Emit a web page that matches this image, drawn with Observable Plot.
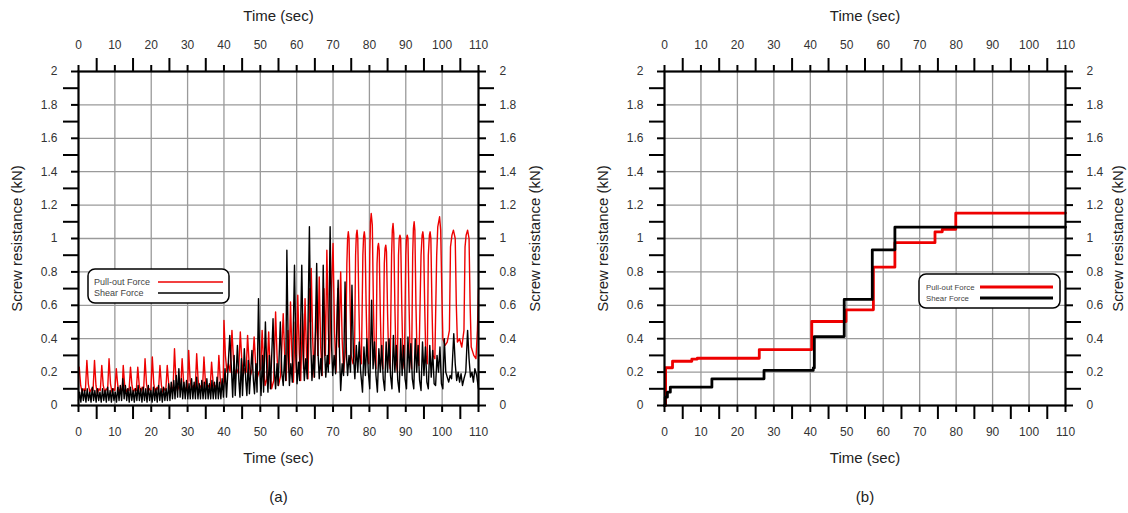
<!DOCTYPE html>
<html>
<head>
<meta charset="utf-8">
<script src="https://cdn.jsdelivr.net/npm/d3@7"></script>
<script src="https://cdn.jsdelivr.net/npm/@observablehq/plot@0.6"></script>
<style>
  html, body { margin: 0; padding: 0; background: #fff; }
  #wrap { position: relative; width: 1128px; height: 513px; overflow: hidden; font-family: "Liberation Sans", Arial, sans-serif; }
  .panel { position: absolute; top: 0; }
  .legend { position: absolute; }
</style>
</head>
<body>
<div id="wrap"></div>
<script>
// ---------- tick values / labels ----------
const xMajorTicks = [0, 10, 20, 30, 40, 50, 60, 70, 80, 90, 100, 110];
const xMinorTicks = [5, 15, 25, 35, 45, 55, 65, 75, 85, 95, 105];
const yMajorTicks = [0, 0.2, 0.4, 0.6, 0.8, 1, 1.2, 1.4, 1.6, 1.8, 2];
const yMinorTicks = [0.1, 0.3, 0.5, 0.7, 0.9, 1.1, 1.3, 1.5, 1.7, 1.9];
const xTitle = "Time (sec)";
const yTitle = "Screw resistance (kN)";
const panelLetters = ["(a)", "(b)"];
const seriesNames = ["Pull-out Force", "Shear Force"];
const seriesColors = ["#ee0000", "#000000"];

// ---------- panel (a): [time (s), force (kN)] ----------
const pullOutA = [
[0,0.2],[0.2,0.23],[0.6,0.12],[1.0,0.08],[1.5,0.1],[1.9,0.09],
[2.3,0.27],[2.7,0.13],[3.1,0.08],[3.6,0.1],[4.0,0.09],
[4.4,0.27],[4.8,0.12],[5.2,0.07],[5.6,0.1],[6.0,0.09],
[6.4,0.24],[6.8,0.12],[7.2,0.08],[7.6,0.1],[8.0,0.09],
[8.4,0.28],[8.8,0.13],[9.2,0.08],[9.6,0.1],[10.0,0.09],
[10.4,0.22],[10.8,0.12],[11.2,0.08],[11.6,0.1],[12.0,0.09],
[12.3,0.24],[12.7,0.12],[13.1,0.08],[13.5,0.1],[13.9,0.09],
[14.3,0.23],[14.7,0.12],[15.1,0.08],[15.5,0.1],[15.9,0.09],
[16.3,0.23],[16.7,0.12],[17.1,0.08],[17.5,0.11],[17.9,0.09],
[18.3,0.28],[18.7,0.13],[19.1,0.08],[19.5,0.1],[19.9,0.09],
[20.3,0.29],[20.7,0.13],[21.1,0.08],[21.6,0.11],[22.0,0.09],
[22.4,0.24],[22.8,0.12],[23.2,0.08],[23.6,0.1],[24.0,0.09],
[24.4,0.24],[24.8,0.13],[25.2,0.09],[25.6,0.11],[26.0,0.1],
[26.4,0.34],[26.8,0.15],[27.2,0.09],[27.7,0.12],[28.1,0.1],
[28.5,0.28],[28.9,0.14],[29.3,0.09],[29.7,0.11],[30.0,0.1],
[30.3,0.33],[30.7,0.15],[31.1,0.1],[31.6,0.12],[32.1,0.1],
[32.5,0.31],[32.9,0.15],[33.3,0.1],[33.7,0.12],[34.1,0.1],
[34.5,0.29],[34.9,0.14],[35.3,0.1],[35.8,0.12],[36.2,0.1],
[36.6,0.26],[37.0,0.14],[37.4,0.1],[37.8,0.12],[38.2,0.11],
[38.6,0.3],[39.0,0.15],[39.4,0.11],[39.8,0.14],
[40.0,0.51],[40.4,0.3],[40.8,0.2],[41.2,0.25],[41.7,0.2],
[42.2,0.45],[42.6,0.28],[43.0,0.18],[43.5,0.22],[44.0,0.19],
[44.5,0.44],[44.9,0.27],[45.3,0.18],[45.7,0.22],[46.1,0.2],
[46.5,0.42],[46.9,0.26],[47.3,0.18],[47.8,0.22],
[48.3,0.41],[48.7,0.25],[49.1,0.16],[49.6,0.2],[50.1,0.22],
[50.5,0.45],[50.9,0.25],[51.3,0.12],[51.8,0.16],
[52.3,0.44],[52.7,0.22],[53.1,0.1],[53.7,0.15],
[54.2,0.56],[54.6,0.3],[55.0,0.12],[55.6,0.18],
[56.3,0.55],[56.7,0.3],[57.1,0.15],[57.6,0.45],[57.9,0.2],
[58.3,0.62],[58.7,0.3],[59.1,0.14],[59.6,0.5],[59.9,0.2],
[60.3,0.66],[60.7,0.32],[61.1,0.15],[61.6,0.55],[61.9,0.22],
[62.3,0.64],[62.7,0.3],[63.1,0.16],[63.6,0.7],[63.8,0.5],
[64.0,0.82],[64.4,0.4],[64.8,0.17],[65.5,0.62],[65.8,0.3],
[66.2,0.77],[66.6,0.35],[67.0,0.18],[67.5,0.7],[67.9,0.3],
[68.3,0.93],[68.7,0.45],[69.0,0.25],[69.4,0.6],
[70.0,0.97],[70.4,0.45],[70.8,0.2],[71.3,0.7],[71.6,0.35],
[72.1,0.8],[72.5,0.4],[72.9,0.2],[73.5,0.35],
[73.8,0.85],[74.0,1.0],[74.2,1.04],[74.4,1.0],[74.7,0.6],[75.0,0.3],[75.5,0.25],[75.9,0.3],
[76.2,0.9],[76.4,1.02],[76.6,1.05],[76.8,1.0],[77.1,0.6],[77.4,0.3],[77.8,0.25],
[78.2,0.9],[78.4,1.01],[78.6,1.04],[78.8,1.0],[79.1,0.6],[79.4,0.3],[79.8,0.25],
[80.1,0.9],[80.3,1.1],[80.5,1.15],[80.8,1.08],[81.1,0.6],[81.4,0.3],[81.8,0.22],
[82.1,0.85],[82.3,0.95],[82.5,0.97],[82.7,0.93],[83.0,0.55],[83.3,0.28],[83.7,0.22],
[84.1,0.85],[84.3,0.94],[84.5,0.96],[84.7,0.92],[85.0,0.55],[85.3,0.28],[85.7,0.22],
[86.1,0.9],[86.3,1.05],[86.5,1.09],[86.7,1.03],[87.0,0.6],[87.3,0.28],[87.7,0.2],
[88.0,0.9],[88.2,1.0],[88.4,1.02],[88.6,1.0],[88.9,0.6],[89.2,0.28],[89.6,0.22],
[90.0,0.9],[90.2,1.0],[90.4,1.02],[90.6,1.0],[90.9,0.6],[91.2,0.3],[91.6,0.22],
[91.9,0.9],[92.1,1.06],[92.3,1.1],[92.5,1.05],[92.8,0.6],[93.1,0.3],[93.6,0.24],
[94.2,0.9],[94.5,1.02],[94.7,1.04],[94.9,1.0],[95.2,0.6],[95.5,0.3],[95.9,0.25],
[96.2,0.9],[96.5,1.02],[96.7,1.04],[96.9,1.0],[97.2,0.6],[97.5,0.3],[98.0,0.28],
[98.5,0.9],[98.8,1.07],[99.3,1.13],[99.6,1.05],[99.9,0.7],[100.2,0.4],[100.8,0.36],[101.4,0.38],
[102.0,0.45],[102.3,0.95],[102.7,1.02],[103.1,1.05],[103.6,1.0],[103.9,0.6],[104.2,0.38],[104.8,0.4],[105.4,0.35],
[106.0,0.45],[106.3,0.95],[106.6,1.02],[107.0,1.05],[107.4,1.0],[107.7,0.6],[108.0,0.35],[108.7,0.3],[109.3,0.28],[109.7,0.45],[110,0.7]
];

const shearA = [
[0,0.03],[0.3,0.08],[0.65,0.02],[1.0,0.1],[1.35,0.03],[1.7,0.09],[2.05,0.02],[2.4,0.1],[2.75,0.03],[3.1,0.08],
[3.45,0.02],[3.8,0.11],[4.15,0.03],[4.5,0.09],[4.85,0.02],[5.2,0.1],[5.55,0.03],[5.9,0.08],[6.25,0.02],[6.6,0.1],
[6.95,0.03],[7.3,0.09],[7.65,0.02],[8.0,0.11],[8.35,0.03],[8.7,0.09],[9.05,0.02],[9.4,0.1],[9.75,0.03],[10.1,0.08],
[10.45,0.02],[10.8,0.11],[11.15,0.03],[11.5,0.12],[11.85,0.03],[12.2,0.16],[12.55,0.04],[12.9,0.12],[13.25,0.03],[13.6,0.1],
[13.95,0.02],[14.3,0.11],[14.65,0.03],[15.0,0.09],[15.35,0.02],[15.7,0.1],[16.05,0.03],[16.4,0.12],[16.75,0.03],[17.1,0.1],
[17.45,0.02],[17.8,0.11],[18.15,0.03],[18.5,0.1],[18.85,0.02],[19.2,0.12],[19.55,0.03],[19.9,0.09],[20.25,0.02],[20.6,0.11],
[20.95,0.03],[21.3,0.1],[21.65,0.02],[22.0,0.12],[22.35,0.03],[22.7,0.1],[23.05,0.02],[23.4,0.11],[23.75,0.03],[24.1,0.1],
[24.45,0.03],[24.8,0.13],[25.15,0.03],[25.5,0.14],[25.85,0.04],[26.2,0.15],[26.55,0.04],[26.9,0.18],[27.25,0.05],[27.6,0.22],
[27.95,0.05],[28.3,0.16],[28.65,0.04],[29.0,0.14],[29.35,0.04],[29.7,0.15],[30.05,0.04],[30.4,0.13],[30.75,0.04],[31.1,0.16],
[31.45,0.04],[31.8,0.14],[32.15,0.04],[32.5,0.17],[32.85,0.04],[33.2,0.13],[33.55,0.04],[33.9,0.15],[34.25,0.04],[34.6,0.14],
[34.95,0.04],[35.3,0.16],[35.65,0.04],[36.0,0.13],[36.35,0.04],[36.7,0.15],[37.05,0.04],[37.4,0.14],[37.75,0.04],[38.1,0.17],
[38.45,0.04],[38.8,0.14],[39.15,0.04],[39.5,0.16],[39.85,0.05],
[40.3,0.22],[40.7,0.05],[41.6,0.42],[42.1,0.2],[42.4,0.05],[42.8,0.3],[43.1,0.06],[43.7,0.36],[44.1,0.15],[44.4,0.05],
[44.8,0.28],[45.1,0.06],[45.6,0.34],[46.0,0.15],[46.3,0.06],[46.7,0.27],[47.0,0.07],[47.7,0.33],[48.1,0.15],[48.4,0.07],
[48.8,0.25],[49.1,0.08],[49.5,0.64],[49.9,0.2],[50.2,0.06],[50.6,0.3],[50.9,0.08],[51.4,0.5],[51.8,0.2],[52.1,0.08],
[52.5,0.3],[52.8,0.1],[53.5,0.52],[53.9,0.2],[54.2,0.1],[54.6,0.25],[54.9,0.12],[55.5,0.5],[55.9,0.2],[56.3,0.12],
[56.7,0.3],[57.0,0.15],
[57.3,0.93],[57.7,0.3],[58.0,0.12],[58.4,0.25],[58.8,0.14],[59.4,0.84],[59.8,0.3],[60.1,0.13],[60.5,0.26],[60.8,0.15],
[61.4,0.84],[61.8,0.3],[62.1,0.15],[62.5,0.28],[62.9,0.16],[63.5,1.07],[63.9,0.35],[64.2,0.15],[64.6,0.3],[64.9,0.17],
[65.5,0.85],[65.9,0.3],[66.2,0.16],[66.6,0.28],[66.9,0.18],[67.3,0.84],[67.7,0.32],[68.0,0.17],[68.4,0.3],[68.7,0.2],
[69.2,1.07],[69.6,0.35],[69.9,0.18],[70.3,0.3],[70.7,0.19],[71.4,0.75],[71.8,0.3],[72.1,0.09],[72.5,0.25],[72.9,0.18],
[73.3,0.74],[73.7,0.3],[74.0,0.18],[74.4,0.3],[74.8,0.2],[75.2,0.72],[75.6,0.3],[76.0,0.16],
[76.4,0.36],[76.8,0.2],[77.2,0.38],[77.6,0.2],[78.1,0.08],[78.5,0.35],[78.9,0.18],[79.3,0.4],[79.7,0.2],[80.1,0.1],
[80.6,0.63],[81.0,0.22],[81.4,0.38],[81.8,0.18],[82.2,0.08],[82.6,0.34],[83.0,0.2],[83.4,0.36],[83.8,0.16],[84.2,0.09],
[84.6,0.38],[85.0,0.2],[85.4,0.4],[85.8,0.18],[86.2,0.1],[86.6,0.42],[87.0,0.2],[87.4,0.36],[87.8,0.15],[88.2,0.08],
[88.6,0.4],[89.0,0.18],[89.4,0.36],[89.8,0.16],[90.2,0.1],[90.6,0.41],[91.0,0.2],[91.4,0.37],[91.8,0.16],[92.2,0.1],
[92.6,0.4],[93.0,0.2],[93.4,0.36],[93.8,0.15],[94.2,0.09],[94.6,0.38],[95.0,0.18],[95.4,0.35],[95.8,0.14],[96.2,0.1],
[96.6,0.36],[97.0,0.17],[97.4,0.33],[97.8,0.13],[98.2,0.12],[98.6,0.3],[99.0,0.2],[99.4,0.35],[99.8,0.13],[100.2,0.1],
[100.6,0.4],[101.0,0.2],[101.4,0.17],[101.8,0.14],[102.2,0.18],[102.6,0.16],[103.2,0.43],[103.6,0.25],[104.0,0.15],[104.4,0.2],
[104.8,0.14],[105.2,0.19],[105.6,0.12],[106.0,0.16],[106.5,0.2],[107.0,0.45],[107.4,0.28],[107.8,0.17],[108.2,0.2],[108.6,0.14],
[109.0,0.22],[109.5,0.18],[110,0.1]
];

// ---------- panel (b): step curves [time (s), force (kN)] ----------
const pullOutB = [
[0,0],[0.3,0.226],[2.2,0.265],[7.5,0.278],[9,0.283],[26,0.335],[40.4,0.503],[49.8,0.573],
[57.3,0.828],[63.2,0.975],[74.2,1.04],[76.2,1.055],[79.9,1.152],[110,1.152]
];
const shearB = [
[0,0],[0.2,0.05],[0.8,0.08],[1.6,0.11],[13,0.16],[27.3,0.21],[40.8,0.225],[41.1,0.413],
[49.3,0.635],[57,0.932],[63.2,1.068],[110,1.068]
];

const fmtY = d3.format("~g");
const FONT = "'Liberation Sans', Arial, sans-serif";

function panel({pull, shear, marginLeft, marginRight, letter, lineWidth, curve, rightTitleDx}) {
  const gx = xMajorTicks.filter(d => d > 0 && d < 110);
  const gy = yMajorTicks.filter(d => d > 0 && d < 2);
  const blank = () => "";
  return Plot.plot({
    width: 564, height: 513,
    marginTop: 71, marginBottom: 108, marginLeft, marginRight,
    x: {domain: [0, 110]},
    y: {domain: [0, 2]},
    style: {background: "transparent", fontFamily: FONT, color: "#000", overflow: "visible"},
    marks: [
      Plot.ruleX(gx, {stroke: "#9a9a9a", strokeWidth: 1.3}),
      Plot.ruleY(gy, {stroke: "#9a9a9a", strokeWidth: 1.3}),
      Plot.line(pull, {x: d => d[0], y: d => d[1], stroke: seriesColors[0], strokeWidth: lineWidth, curve}),
      Plot.line(shear, {x: d => d[0], y: d => d[1], stroke: seriesColors[1], strokeWidth: lineWidth, curve}),
      Plot.frame({stroke: "#000", strokeWidth: 2.2}),
      // ticks
      Plot.axisX(xMajorTicks, {anchor: "bottom", tickSize: 7, tickFormat: blank, strokeWidth: 2, label: null}),
      Plot.axisX(xMinorTicks, {anchor: "bottom", tickSize: 14, tickFormat: blank, strokeWidth: 2, label: null}),
      Plot.axisX(xMajorTicks, {anchor: "top", tickSize: 7, tickFormat: blank, strokeWidth: 2, label: null}),
      Plot.axisX(xMinorTicks, {anchor: "top", tickSize: 14, tickFormat: blank, strokeWidth: 2, label: null}),
      Plot.axisY(yMajorTicks, {anchor: "left", tickSize: 7, tickFormat: blank, strokeWidth: 2, label: null}),
      Plot.axisY(yMinorTicks, {anchor: "left", tickSize: 15, tickFormat: blank, strokeWidth: 2, label: null}),
      Plot.axisY(yMajorTicks, {anchor: "right", tickSize: 7, tickFormat: blank, strokeWidth: 2, label: null}),
      Plot.axisY(yMinorTicks, {anchor: "right", tickSize: 15, tickFormat: blank, strokeWidth: 2, label: null}),
      // tick labels
      Plot.axisX(xMajorTicks, {anchor: "bottom", tickSize: 0, tickPadding: 22, fontSize: 12, fill: "#333", label: null, tickFormat: d => String(d)}),
      Plot.axisX(xMajorTicks, {anchor: "top", tickSize: 0, tickPadding: 23, fontSize: 12, fill: "#333", label: null, tickFormat: d => String(d)}),
      Plot.axisY(yMajorTicks, {anchor: "left", tickSize: 0, tickPadding: 21, fontSize: 12, fill: "#333", label: null, tickFormat: fmtY}),
      Plot.axisY(yMajorTicks, {anchor: "right", tickSize: 0, tickPadding: 21, fontSize: 12, fill: "#333", label: null, tickFormat: fmtY}),
      // titles
      Plot.text([xTitle], {frameAnchor: "top", dy: -55, fontSize: 15, fill: "#222", lineAnchor: "middle"}),
      Plot.text([xTitle], {frameAnchor: "bottom", dy: 53, fontSize: 15, fill: "#222", lineAnchor: "middle"}),
      Plot.text([yTitle], {frameAnchor: "left", dx: -61, rotate: -90, fontSize: 15, fill: "#222", lineAnchor: "middle", textAnchor: "middle"}),
      Plot.text([yTitle], {frameAnchor: "right", dx: rightTitleDx, rotate: -90, fontSize: 15, fill: "#222", lineAnchor: "middle", textAnchor: "middle"}),
      Plot.text([letter], {frameAnchor: "bottom", dy: 92, fontSize: 15, fill: "#222", lineAnchor: "middle"})
    ]
  });
}

function legend({left, top, width, height, lineX1, lineX2, textX, lineWidth, fontSize}) {
  const svg = d3.create("svg")
    .attr("class", "legend")
    .attr("width", width + 4).attr("height", height + 4)
    .style("left", (left - 2) + "px").style("top", (top - 2) + "px")
    .style("font-family", FONT);
  svg.append("rect").attr("x", 2).attr("y", 2).attr("width", width).attr("height", height)
    .attr("rx", 7).attr("ry", 7).attr("fill", "#fff").attr("stroke", "#000").attr("stroke-width", 1.5);
  seriesNames.forEach((name, i) => {
    const cy = 2 + 13 + i * 11;
    svg.append("text").attr("x", 2 + textX).attr("y", cy).attr("dy", "0.35em")
      .attr("font-size", fontSize).attr("fill", "#444").text(name);
    svg.append("line").attr("x1", 2 + lineX1).attr("x2", 2 + lineX2).attr("y1", cy).attr("y2", cy)
      .attr("stroke", seriesColors[i]).attr("stroke-width", lineWidth);
  });
  return svg.node();
}

const wrap = document.getElementById("wrap");
const a = panel({pull: pullOutA, shear: shearA, marginLeft: 78, marginRight: 86, letter: panelLetters[0], lineWidth: 1.4, curve: "linear", rightTitleDx: 57});
a.classList.add("panel"); a.style.left = "0px";
const b = panel({pull: pullOutB, shear: shearB, marginLeft: 100, marginRight: 63, letter: panelLetters[1], lineWidth: 2.8, curve: "step-after", rightTitleDx: 53});
b.classList.add("panel"); b.style.left = "564px";
wrap.appendChild(a);
wrap.appendChild(b);
wrap.appendChild(legend({left: 88, top: 269, width: 141, height: 34, lineX1: 70, lineX2: 135, textX: 6, lineWidth: 1.5, fontSize: 9}));
wrap.appendChild(legend({left: 919, top: 274, width: 141, height: 34, lineX1: 61, lineX2: 134, textX: 7, lineWidth: 3, fontSize: 7.8}));
</script>
</body>
</html>
